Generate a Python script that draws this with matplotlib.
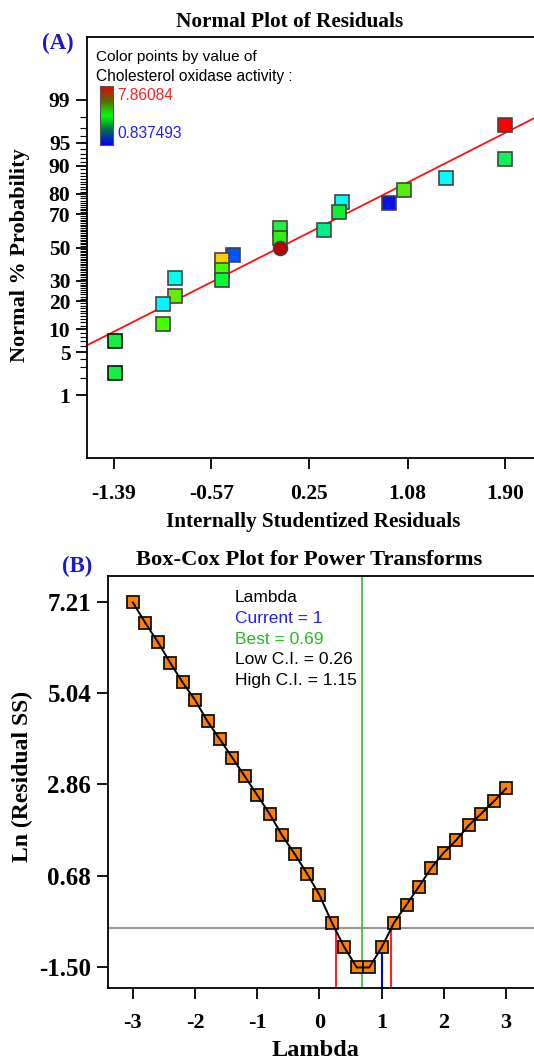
import numpy as np
import matplotlib
matplotlib.use("Agg")
import matplotlib.pyplot as plt
from matplotlib.colors import LinearSegmentedColormap
from statistics import NormalDist

# ---- Panel A: normal plot of residuals ----
resid = [1.90, 1.90, 1.404, 1.045, 0.927, 0.527, 0.50, 0.38, 0.006, 0.006,
         0.006, -0.385, -0.485, -0.485, -0.485, -0.873, -0.873, -0.98,
         -0.98, -1.38, -1.38]
pct = [97.3, 91.9, 86.4, 81.5, 76.0, 76.5, 70.9, 61.0, 61.8, 56.0,
       49.4, 45.0, 42.5, 35.9, 30.2, 31.3, 22.5, 18.9, 11.6, 7.0, 2.4]
pt_colors = ["#ff0000", "#11f055", "#00ffff", "#55ee11", "#0011ee",
             "#00ffee", "#11ee33", "#00f088", "#22ee44", "#33ee11",
             "#bb0000", "#0055ff", "#ffcc00", "#44ff00", "#00ff33",
             "#00ffee", "#66ee00", "#00f8ff", "#44ff00", "#11ee44", "#11ee44"]
pt_marker = ["s"] * 10 + ["o"] + ["s"] * 10
line_x = [-1.617, 2.235]
line_pct = [6.2, 98.3]
a_yticks = [1, 5, 10, 20, 30, 50, 70, 80, 90, 95, 99]
a_xticks = [-1.39, -0.57, 0.25, 1.08, 1.90]
act_hi, act_lo = "7.86084", "0.837493"

# ---- Panel B: Box-Cox ----
lam = [-3.0, -2.8, -2.6, -2.4, -2.2, -2.0, -1.8, -1.6, -1.4, -1.2, -1.0,
       -0.8, -0.6, -0.4, -0.2, 0.0, 0.2, 0.4, 0.6, 0.8, 1.0, 1.2, 1.4,
       1.6, 1.8, 2.0, 2.2, 2.4, 2.6, 2.8, 3.0]
ln_ss = [7.20, 6.71, 6.26, 5.76, 5.29, 4.87, 4.36, 3.93, 3.49, 3.05, 2.60,
         2.15, 1.64, 1.20, 0.73, 0.22, -0.44, -1.03, -1.51, -1.51, -1.03,
         -0.44, -0.01, 0.42, 0.87, 1.23, 1.53, 1.88, 2.16, 2.45, 2.76]
ci_level = -0.56
lam_current, lam_best, lam_low, lam_high = 1.0, 0.69, 0.26, 1.15
b_yticks = [-1.50, 0.68, 2.86, 5.04, 7.21]
b_xticks = [-3, -2, -1, 0, 1, 2, 3]

W, H = 534, 1064
SERIF = ["Liberation Serif", "DejaVu Serif"]
SANS = ["Liberation Sans", "DejaVu Sans"]

fig = plt.figure(figsize=(W / 100, H / 100), dpi=100)


def fx(px):
    return px / W


def fy(py):
    return 1 - py / H


z = lambda p: NormalDist().inv_cdf(p / 100.0)


def bold_serif(labels):
    for lab in labels:
        lab.set_family(SERIF)
        lab.set_fontweight("bold")


# ================= Panel A =================
axA = fig.add_axes([fx(87), fy(458), fx(545 - 87), (458 - 37) / H])
axA.set_xlim(-1.617, 2.235)
axA.set_ylim(-3.31, 3.31)
axA.plot(line_x, [z(p) for p in line_pct], color="#ff1010", lw=1.3, zorder=2)
for x, p, c, m in zip(resid, pct, pt_colors, pt_marker):
    ec = "#111111" if x < -1.2 else "#444444"
    axA.plot(x, z(p), marker=m, ms=9.5 if m == "s" else 10, color=c,
             mec=ec, mew=1.2, ls="none", zorder=3)

axA.set_yticks([z(p) for p in a_yticks])
axA.set_yticklabels([str(p) for p in a_yticks])
axA.set_yticks([z(p) for p in range(1, 100) if p not in a_yticks], minor=True)
axA.set_xticks(a_xticks)
axA.set_xticklabels([f"{v:.2f}" for v in a_xticks])
axA.tick_params(axis="both", which="major", direction="out", length=8,
                width=1.3, labelsize=15.5, pad=4)
axA.tick_params(axis="y", which="minor", direction="out", length=5, width=0.8)
axA.tick_params(axis="x", pad=11)
bold_serif(axA.get_xticklabels() + axA.get_yticklabels())
for s in ["left", "bottom", "top"]:
    axA.spines[s].set_linewidth(1.3)
axA.spines["right"].set_visible(False)

fig.text(fx(290), fy(22), "Normal Plot of Residuals", ha="center", va="center",
         family=SERIF, fontweight="bold", fontsize=15.3)
fig.text(fx(58), fy(43), "(A)", ha="center", va="center", color="#1a1acc",
         family=SERIF, fontweight="bold", fontsize=16.5)
fig.text(fx(20), fy(255), "Normal % Probability", ha="center", va="center",
         rotation=90, family=SERIF, fontweight="bold", fontsize=16)
fig.text(fx(313), fy(522), "Internally Studentized Residuals", ha="center",
         va="center", family=SERIF, fontweight="bold", fontsize=15.2)

# colour legend
fig.text(fx(96), fy(57), "Color points by value of", ha="left", va="center",
         family=SANS, fontsize=11.1)
fig.text(fx(96), fy(76), "Cholesterol oxidase activity :", ha="left",
         va="center", family=SANS, fontsize=11.2)
cmap = LinearSegmentedColormap.from_list(
    "act", ["#0000ff", "#006a50", "#00ff00", "#5a6a00", "#ee0000"])
cax = fig.add_axes([fx(100), fy(145), fx(13), 59 / H])
cax.imshow(np.linspace(0, 1, 100).reshape(-1, 1), aspect="auto", cmap=cmap,
           origin="lower", extent=[0, 1, 0, 1])
cax.set_xticks([])
cax.set_yticks([])
for s in cax.spines.values():
    s.set_color("#555555")
fig.text(fx(117), fy(95), act_hi, ha="left", va="center", color="#ff2020",
         family=SANS, fontsize=11.2)
fig.text(fx(117), fy(134), act_lo, ha="left", va="center", color="#2020ff",
         family=SANS, fontsize=11.2)

# ================= Panel B =================
axB = fig.add_axes([fx(108), fy(988), fx(545 - 108), (988 - 576) / H])
axB.set_xlim(-3.40, 3.626)
axB.set_ylim(-2.00, 7.83)
axB.axhline(ci_level, color="#999999", lw=1.5, zorder=1)
axB.axvline(lam_best, color="#33bb33", lw=1.2, zorder=1)
axB.plot([lam_low, lam_low], [-2.0, ci_level], color="#ff2020", lw=1.5, zorder=1)
axB.plot([lam_high, lam_high], [-2.0, ci_level], color="#ff2020", lw=1.5, zorder=1)
cur_y = ln_ss[lam.index(lam_current)]
axB.plot([lam_current, lam_current], [-2.0, cur_y], color="#0000dd", lw=1.5,
         zorder=1)
axB.plot(lam, ln_ss, ls="none", marker="s", ms=8, color="#ff8000", mec="#111111",
         mew=1.3, zorder=2)
axB.plot(lam, ln_ss, color="black", lw=1.4, zorder=3)

axB.set_yticks(b_yticks)
axB.set_yticklabels([f"{v:.2f}" for v in b_yticks])
axB.set_xticks(b_xticks)
axB.set_xticklabels([str(v) for v in b_xticks])
axB.tick_params(axis="both", direction="out", length=8, width=1.3, pad=4)
axB.tick_params(axis="y", labelsize=18)
axB.tick_params(axis="x", labelsize=16, pad=10)
bold_serif(axB.get_xticklabels() + axB.get_yticklabels())
for s in ["left", "bottom", "top"]:
    axB.spines[s].set_linewidth(1.3)
axB.spines["right"].set_visible(False)

leg_lines = [("Lambda", "black"), (f"Current = {lam_current:g}", "#2020ff"),
             (f"Best = {lam_best}", "#22bb22"),
             (f"Low C.I. = {lam_low}", "black"),
             (f"High C.I. = {lam_high}", "black")]
for i, (t, c) in enumerate(leg_lines):
    fig.text(fx(235), fy(598 + 20.5 * i), t, ha="left", va="center", color=c,
             family=SANS, fontsize=12.5)

fig.text(fx(309), fy(560), "Box-Cox Plot for Power Transforms", ha="center",
         va="center", family=SERIF, fontweight="bold", fontsize=16.2)
fig.text(fx(77), fy(566), "(B)", ha="center", va="center", color="#1a1acc",
         family=SERIF, fontweight="bold", fontsize=16.5)
fig.text(fx(22), fy(776), "Ln (Residual SS)", ha="center", va="center",
         rotation=90, family=SERIF, fontweight="bold", fontsize=17)
fig.text(fx(315), fy(1050), "Lambda", ha="center", va="center", family=SERIF,
         fontweight="bold", fontsize=17.5)

fig.savefig("out.png", dpi=100)
